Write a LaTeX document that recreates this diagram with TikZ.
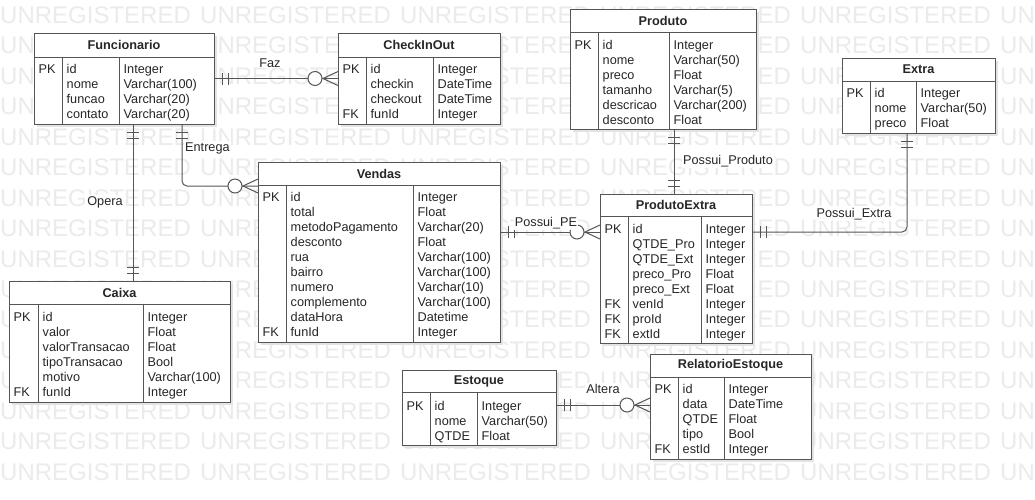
\documentclass[tikz,border=0pt]{standalone}
\usepackage{fontspec}
\setmainfont{Liberation Sans}
\usetikzlibrary{calc}
\definecolor{linec}{HTML}{555555}
\definecolor{txtc}{HTML}{262626}
\definecolor{wmc}{HTML}{EBEBEB}
\definecolor{shc}{HTML}{E3E3E3}
\newcommand\rs{\rule{0pt}{11pt}}
\tikzset{
  tbl/.style={draw=linec, line width=1pt, fill=white, inner sep=0pt, outer sep=0pt},
  ttl/.style={font=\fontsize{12.7}{15}\selectfont\bfseries, text=txtc, inner sep=0pt},
  col/.style={anchor=north west, inner sep=0pt, align=left, font=\fontsize{12.7}{15}\selectfont, text=txtc},
  tline/.style={draw=linec, line width=1pt},
  conn/.style={draw=linec, line width=1pt},
  lbl/.style={font=\fontsize{12.7}{15}\selectfont, text=txtc, fill=white, inner sep=1pt},
  wm/.style={font=\fontsize{24}{24}\selectfont, text=wmc, anchor=west, inner sep=0pt},
}
% #1 id, #2 title, #3 x1, #4 y1, #5 x2, #6 y2, #7 header bottom, #8 divider 1, #9 divider 2
\newcommand\ertable[9]{%
  \fill[shc] (#3+3,#4+3) rectangle (#5+3,#6+3);
  \node[tbl, minimum width={#5-#3}, minimum height={#6-#4}] (#1) at ({(#3+#5)/2},{(#4+#6)/2}) {};
  \node[ttl] (#1-t) at ({(#3+#5)/2},{(#4+#7)/2}) {#2};
  \draw[tline] (#3,#7) -- (#5,#7) (#8,#7) -- (#8,#6) (#9,#7) -- (#9,#6);
  \def\hb{#7}\def\da{#3}\def\db{#8}\def\dc{#9}\def\curid{#1}%
}
% #1 first row centre, #2 keys, #3 names, #4 types
\newcommand\ercols[4]{%
  \node[col] (\curid-k) at (\da+4.5,#1-6.5) {\rs #2};
  \node[col] (\curid-n) at (\db+4.5,#1-6.5) {\rs #3};
  \node[col] (\curid-y) at (\dc+4.5,#1-6.5) {\rs #4};
}
% mandatory-one mark: #1 end coordinate, (#2,#3) direction away from entity
\newcommand\onemark[3]{%
  \foreach \s in {8,14}{\draw[conn] ($(#1)+({\s*#2-6*#3},{\s*#3+6*#2})$) -- ($(#1)+({\s*#2+6*#3},{\s*#3-6*#2})$);}%
}
% zero-or-many mark
\newcommand\manymark[3]{%
  \draw[conn] ($(#1)+({7*#3},{-7*#2})$) -- ($(#1)+({15*#2},{15*#3})$) -- ($(#1)+({-7*#3},{7*#2})$);
  \draw[conn, fill=white] ($(#1)+({23*#2},{23*#3})$) circle[radius=7pt];
}
\begin{document}
\begin{tikzpicture}[x=1pt, y=-1pt]
\clip (0,0) rectangle (1035,499);
\fill[white] (0,0) rectangle (1035,499);
% watermark
\foreach \r in {0,...,15}{\foreach \c in {0,...,5}{%
  \node[wm] (wm-\r-\c) at (200*\c, 15+30.47*\r) {UNREGISTERED};}}

% tables
\ertable{func}{Funcionario}{34}{33}{214}{124}{57}{62}{119}
\ercols{69}{PK}{id\\nome\\funcao\\contato}{Integer\\Varchar(100)\\Varchar(20)\\Varchar(20)}

\ertable{chk}{CheckInOut}{338}{33}{500}{124}{57}{366}{433}
\ercols{69}{PK\\\mbox{}\\\mbox{}\\FK}{id\\checkin\\checkout\\funId}{Integer\\DateTime\\DateTime\\Integer}

\ertable{prod}{Produto}{570}{9}{756}{129}{32}{598}{669}
\ercols{45}{PK}{id\\nome\\preco\\tamanho\\descricao\\desconto}{Integer\\Varchar(50)\\Float\\Varchar(5)\\Varchar(200)\\Float}

\ertable{extra}{Extra}{842}{58}{995}{133}{81}{870}{916}
\ercols{93}{PK}{id\\nome\\preco}{Integer\\Varchar(50)\\Float}

\ertable{vend}{Vendas}{258}{162}{500}{342}{185}{286}{413}
\ercols{197}{PK\\\mbox{}\\\mbox{}\\\mbox{}\\\mbox{}\\\mbox{}\\\mbox{}\\\mbox{}\\\mbox{}\\FK}{id\\total\\metodoPagamento\\desconto\\rua\\bairro\\numero\\complemento\\dataHora\\funId}{Integer\\Float\\Varchar(20)\\Float\\Varchar(100)\\Varchar(100)\\Varchar(10)\\Varchar(100)\\Datetime\\Integer}

\ertable{caixa}{Caixa}{9}{281}{230}{402}{304}{38}{143}
\ercols{317}{PK\\\mbox{}\\\mbox{}\\\mbox{}\\\mbox{}\\FK}{id\\valor\\valorTransacao\\tipoTransacao\\motivo\\funId}{Integer\\Float\\Float\\Bool\\Varchar(100)\\Integer}

\ertable{pe}{ProdutoExtra}{600}{194}{752}{343}{216}{628}{701}
\ercols{229}{PK\\\mbox{}\\\mbox{}\\\mbox{}\\\mbox{}\\FK\\FK\\FK}{id\\QTDE\_Pro\\QTDE\_Ext\\preco\_Pro\\preco\_Ext\\venId\\proId\\extId}{Integer\\Integer\\Integer\\Float\\Float\\Integer\\Integer\\Integer}

\ertable{est}{Estoque}{402}{370}{556}{445}{392}{430}{477}
\ercols{406}{PK}{id\\nome\\QTDE}{Integer\\Varchar(50)\\Float}

\ertable{rel}{RelatorioEstoque}{650}{354}{811}{459}{377}{678}{724}
\ercols{389}{PK\\\mbox{}\\\mbox{}\\\mbox{}\\FK}{id\\data\\QTDE\\tipo\\estId}{Integer\\DateTime\\Float\\Bool\\Integer}

% connectors
% Faz
\coordinate (fazA) at (func.east);
\coordinate (fazB) at (chk.west);
\draw[conn] (fazA) -- (fazB);
\onemark{fazA}{1}{0}
\manymark{fazB}{-1}{0}
\node[lbl] (fazL) at (270,63) {Faz};

% Entrega
\coordinate (entA) at ($(func.south east)+(-32,0)$);
\coordinate (entB) at ($(vend.north west)+(0,24)$);
\draw[conn, rounded corners=5pt] (entA) |- (entB);
\onemark{entA}{0}{1}
\manymark{entB}{-1}{0}
\node[lbl, anchor=west] (entL) at (184,148) {Entrega};

% Opera
\coordinate (opA) at ($(func.south west)+(99,0)$);
\coordinate (opB) at (caixa.north -| opA);
\draw[conn] (opA) -- (opB);
\onemark{opA}{0}{1}
\onemark{opB}{0}{-1}
\node[lbl] (opL) at (105,202) {Opera};

% Possui_PE
\coordinate (ppeA) at ($(vend.north east)+(0,70)$);
\coordinate (ppeB) at (pe.west |- ppeA);
\draw[conn] (ppeA) -- (ppeB);
\onemark{ppeA}{1}{0}
\manymark{ppeB}{-1}{0}
\node[lbl] (ppeL) at (546,223) {Possui\_PE};

% Possui_Produto
\coordinate (pprA) at ($(prod.south)+(11,0)$);
\coordinate (pprB) at (pe.north -| pprA);
\draw[conn] (pprA) -- (pprB);
\onemark{pprA}{0}{1}
\onemark{pprB}{0}{-1}
\node[lbl] (pprL) at (728,161) {Possui\_Produto};

% Possui_Extra
\coordinate (pexA) at ($(extra.south)+(-11.5,0)$);
\coordinate (pexB) at (pe.east |- ppeA);
\draw[conn, rounded corners=5pt] (pexA) |- (pexB);
\onemark{pexA}{0}{1}
\onemark{pexB}{1}{0}
\node[lbl] (pexL) at (854,214) {Possui\_Extra};

% Altera
\coordinate (altA) at ($(est.north east)+(0,35)$);
\coordinate (altB) at (rel.west |- altA);
\draw[conn] (altA) -- (altB);
\onemark{altA}{1}{0}
\manymark{altB}{-1}{0}
\node[lbl] (altL) at (603,389) {Altera};
\end{tikzpicture}
\end{document}
